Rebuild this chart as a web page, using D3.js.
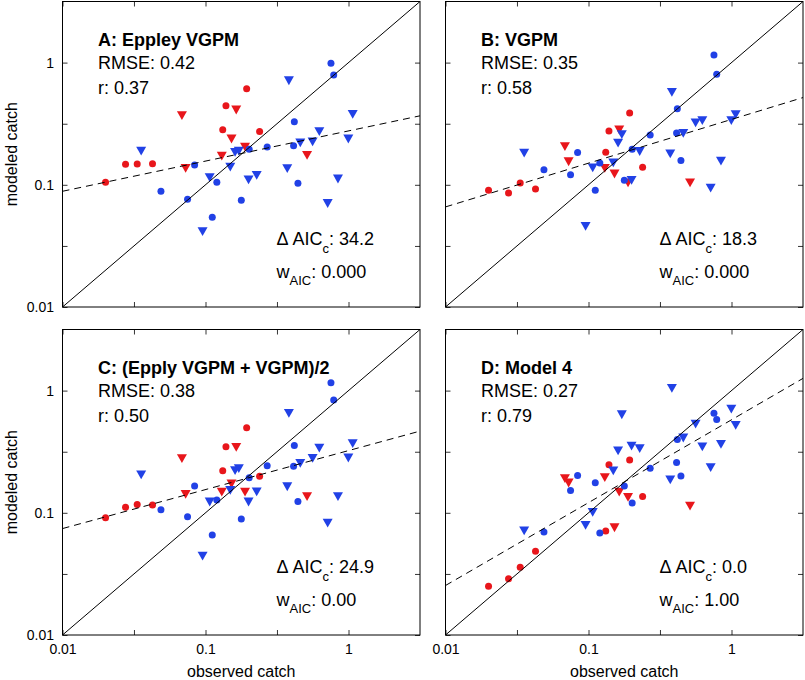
<!DOCTYPE html>
<html>
<head>
<meta charset="utf-8">
<script src="https://cdn.jsdelivr.net/npm/d3@7"></script>
<style>
  html, body { margin: 0; padding: 0; background: #fff; }
  svg { display: block; font-family: "Liberation Sans", Arial, Helvetica, sans-serif; }
</style>
</head>
<body>
<svg id="chart" width="805" height="680"></svg>
<script>
// ---- data (observations: red circles, red triangles, blue circles, blue triangles) ----
const observed = [
  0.0200, 0.0276, 0.0333, 0.0426, 0.132, 0.139, 0.194, 0.239,
  0.0684, 0.0726, 0.130, 0.152, 0.164, 0.189, 0.513,
  0.0488, 0.0749, 0.0839, 0.1115, 0.120, 0.178, 0.202, 0.270, 0.413, 0.418, 0.443, 0.754, 0.788,
  0.0355, 0.0954, 0.107, 0.149, 0.161, 0.171, 0.200, 0.228, 0.373, 0.383, 0.460, 0.561, 0.625, 0.715, 0.844, 0.997, 1.07
];
const pointColor = [
  "red","red","red","red","red","red","red","red",
  "red","red","red","red","red","red","red",
  "blue","blue","blue","blue","blue","blue","blue","blue","blue","blue","blue","blue","blue",
  "blue","blue","blue","blue","blue","blue","blue","blue","blue","blue","blue","blue","blue","blue","blue","blue","blue"
];
const pointShape = [
  "circle","circle","circle","circle","circle","circle","circle","circle",
  "triangle","triangle","triangle","triangle","triangle","triangle","triangle",
  "circle","circle","circle","circle","circle","circle","circle","circle","circle","circle","circle","circle","circle",
  "triangle","triangle","triangle","triangle","triangle","triangle","triangle","triangle","triangle","triangle","triangle","triangle","triangle","triangle","triangle","triangle","triangle"
];
const modeledA = [
  0.105, 0.147, 0.148, 0.149, 0.282, 0.443, 0.610, 0.273,
  0.369, 0.137, 0.172, 0.238, 0.411, 0.204, 0.175,
  0.0885, 0.0761, 0.145, 0.0543, 0.105, 0.0747, 0.195, 0.204, 0.209, 0.328, 0.103, 0.988, 0.793,
  0.189, 0.0415, 0.115, 0.140, 0.185, 0.189, 0.110, 0.120, 0.136, 0.713, 0.221, 0.225, 0.273, 0.0706, 0.112, 0.238, 0.379
];
const modeledB = [
  0.0902, 0.0858, 0.1035, 0.0925, 0.185, 0.275, 0.386, 0.139,
  0.206, 0.155, 0.137, 0.123, 0.282, 0.104, 0.104,
  0.133, 0.121, 0.184, 0.0902, 0.151, 0.109, 0.195, 0.255, 0.265, 0.419, 0.158, 1.155, 0.803,
  0.182, 0.0459, 0.138, 0.152, 0.220, 0.258, 0.109, 0.188, 0.180, 0.573, 0.265, 0.322, 0.336, 0.0942, 0.157, 0.336, 0.376
];
const modeledC = [
  0.0913, 0.111, 0.117, 0.116, 0.221, 0.347, 0.496, 0.199,
  0.279, 0.142, 0.148, 0.173, 0.345, 0.148, 0.136,
  0.106, 0.0930, 0.166, 0.0659, 0.127, 0.0891, 0.194, 0.243, 0.240, 0.356, 0.124, 1.162, 0.839,
  0.205, 0.0444, 0.123, 0.153, 0.222, 0.231, 0.123, 0.149, 0.164, 0.653, 0.255, 0.280, 0.340, 0.0826, 0.136, 0.282, 0.369
];
const modeledD = [
  0.0251, 0.0288, 0.0359, 0.0485, 0.0711, 0.247, 0.270, 0.136,
  0.191, 0.176, 0.195, 0.0757, 0.148, 0.134, 0.114,
  0.0697, 0.152, 0.202, 0.176, 0.0685, 0.166, 0.120, 0.232, 0.258, 0.398, 0.200, 0.653, 0.580,
  0.0715, 0.0791, 0.101, 0.221, 0.322, 0.637, 0.353, 0.336, 0.187, 1.045, 0.411, 0.534, 0.347, 0.235, 0.365, 0.708, 0.521
];

const panelTitles = ["A: Eppley VGPM", "B: VGPM", "C: (Epply VGPM + VGPM)/2", "D: Model 4"];
const rmseLabels = ["0.42", "0.35", "0.38", "0.27"];
const rLabels = ["0.37", "0.58", "0.50", "0.79"];
const dAicLabels = ["34.2", "18.3", "24.9", "0.0"];
const wAicLabels = ["0.000", "0.000", "0.00", "1.00"];
// dashed fit lines in log10 space: log10(y) = intercept + slope * log10(x)
const fitIntercept = [-0.559, -0.465, -0.491, -0.239];
const fitSlope = [0.247, 0.358, 0.319, 0.678];

const axisDomain = [0.01, Math.pow(10, 0.5)];
const tickValues = [0.01, 0.0316, 0.1, 0.316, 1];
const tickLabels = ["0.01", "", "0.1", "", "1"];

// ---- layout ----
const svg = d3.select("#chart");
const W = 357.5, H = 305.5;
const panelPos = [[62.5, 1.5], [445.5, 1.5], [62.5, 329.5], [445.5, 329.5]];
const modeledAll = [modeledA, modeledB, modeledC, modeledD];
const colors = { red: "#e8161b", blue: "#2141e6" };

const x = d3.scaleLog().domain(axisDomain).range([0, W]);
const y = d3.scaleLog().domain(axisDomain).range([H, 0]);
const fmt = v => tickLabels[tickValues.indexOf(v)];

const defs = svg.append("defs");
defs.append("clipPath").attr("id", "clip").append("rect").attr("width", W).attr("height", H);

const triPath = "M-5,-4.2L5,-4.2L0,4.6Z";

panelPos.forEach((pos, p) => {
  const g = svg.append("g").attr("transform", `translate(${pos[0]},${pos[1]})`);
  const isLeft = p % 2 === 0, isBottom = p >= 2;

  // axes with inward ticks on all sides
  const ax = [
    d3.axisBottom(x).tickValues(tickValues).tickSize(-5).tickPadding(9.5).tickFormat(isBottom ? fmt : () => ""),
    d3.axisTop(x).tickValues(tickValues).tickSize(-5).tickFormat(() => ""),
    d3.axisLeft(y).tickValues(tickValues).tickSize(-5).tickPadding(8.5).tickFormat(isLeft ? fmt : () => ""),
    d3.axisRight(y).tickValues(tickValues).tickSize(-5).tickFormat(() => "")
  ];
  const trans = [`translate(0,${H})`, "translate(0,0)", "translate(0,0)", `translate(${W},0)`];
  ax.forEach((a, i) => {
    const ag = g.append("g").attr("transform", trans[i]).call(a);
    ag.select(".domain").remove();
    ag.selectAll("line").attr("stroke", "#000").attr("stroke-width", 0.8);
    ag.selectAll("text").attr("fill", "#000").style("font-size", "14px")
      .style("font-family", "'Liberation Sans', Arial, Helvetica, sans-serif");
  });

  // points
  const modeled = modeledAll[p];
  const pts = g.append("g");
  observed.forEach((ov, i) => {
    const cx = x(ov), cy = y(modeled[i]);
    if (pointShape[i] === "circle") {
      pts.append("circle").attr("cx", cx).attr("cy", cy).attr("r", 3.5).attr("fill", colors[pointColor[i]]);
    } else {
      pts.append("path").attr("d", triPath).attr("transform", `translate(${cx},${cy})`).attr("fill", colors[pointColor[i]]);
    }
  });

  // 1:1 line and dashed fit line
  const lines = g.append("g").attr("clip-path", "url(#clip)");
  lines.append("line")
    .attr("x1", x(axisDomain[0])).attr("y1", y(axisDomain[0]))
    .attr("x2", x(axisDomain[1])).attr("y2", y(axisDomain[1]))
    .attr("stroke", "#000").attr("stroke-width", 1);
  const fitY = lx => Math.pow(10, fitIntercept[p] + fitSlope[p] * Math.log10(lx));
  lines.append("line")
    .attr("x1", x(axisDomain[0])).attr("y1", y(fitY(axisDomain[0])))
    .attr("x2", x(axisDomain[1])).attr("y2", y(fitY(axisDomain[1])))
    .attr("stroke", "#000").attr("stroke-width", 1).attr("stroke-dasharray", "7,5");

  // frame
  g.append("rect").attr("width", W).attr("height", H).attr("fill", "none")
    .attr("stroke", "#000").attr("stroke-width", 1);

  // annotations
  const tx = 35.5;
  g.append("text").attr("x", tx).attr("y", 44).style("font-size", "18px").style("font-weight", "bold").text(panelTitles[p]);
  g.append("text").attr("x", tx).attr("y", 67.5).style("font-size", "18px").text("RMSE: " + rmseLabels[p]);
  g.append("text").attr("x", tx).attr("y", 92).style("font-size", "18px").text("r: " + rLabels[p]);

  const t1 = g.append("text").attr("x", 214).attr("y", 243.5).style("font-size", "18px");
  t1.append("tspan").text("\u0394 AIC");
  t1.append("tspan").attr("dy", 8).style("font-size", "13px").text("c");
  t1.append("tspan").attr("dy", -8).text(": " + dAicLabels[p]);

  const t2 = g.append("text").attr("x", 214).attr("y", 276).style("font-size", "18px");
  t2.append("tspan").text("w");
  t2.append("tspan").attr("dy", 7).style("font-size", "13px").text("AIC");
  t2.append("tspan").attr("dy", -7).text(": " + wAicLabels[p]);

  // axis titles
  if (isLeft) {
    g.append("text").attr("transform", `translate(${16.5 - pos[0]},${H / 2}) rotate(-90)`)
      .attr("text-anchor", "middle").style("font-size", "16px").text("modeled catch");
  }
  if (isBottom) {
    g.append("text").attr("x", W / 2).attr("y", 677 - pos[1])
      .attr("text-anchor", "middle").style("font-size", "16px").text("observed catch");
  }
});
</script>
</body>
</html>
